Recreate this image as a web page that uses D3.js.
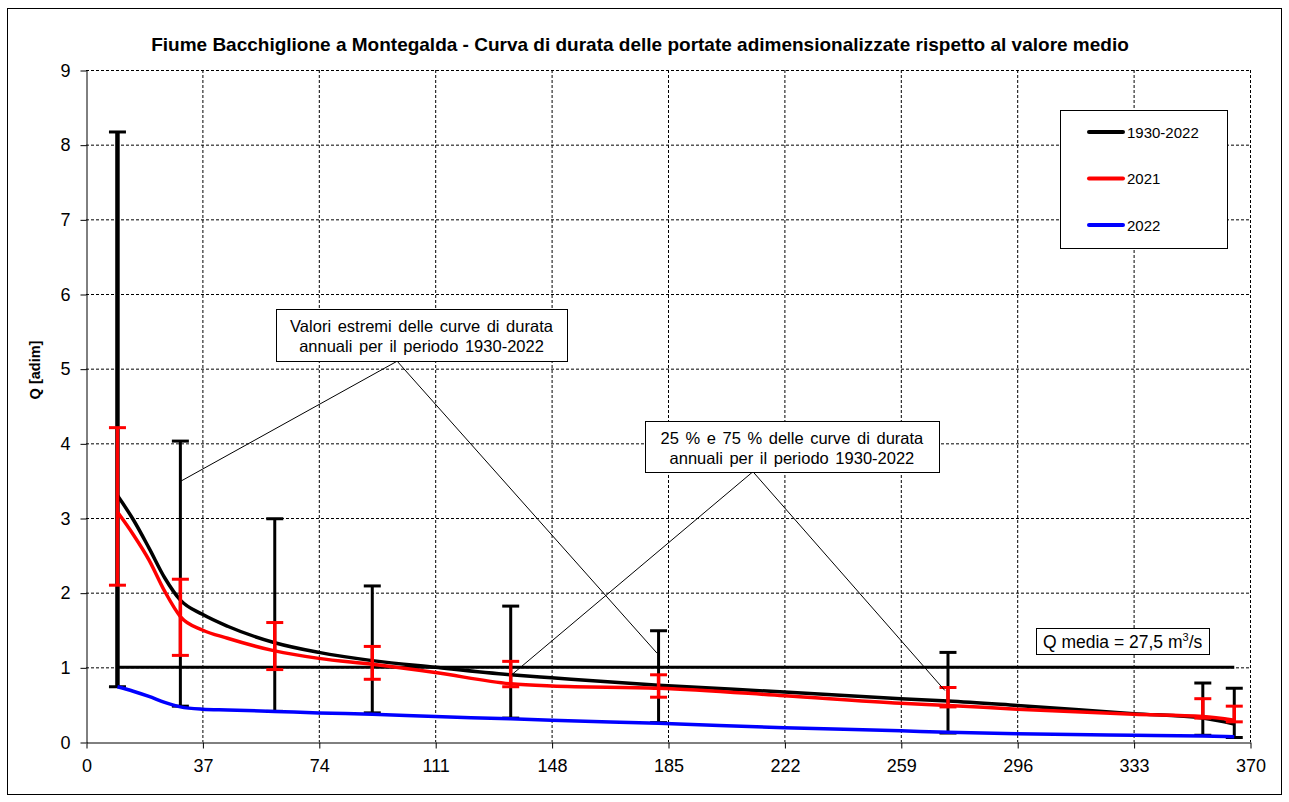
<!DOCTYPE html>
<html>
<head>
<meta charset="utf-8">
<script src="https://cdn.jsdelivr.net/npm/d3@7"></script>
<style>
  html, body { margin: 0; padding: 0; background: #fff; }
  text { font-family: "Liberation Sans", Arial, sans-serif; }
</style>
</head>
<body>
<svg id="chart" width="1289" height="802"></svg>
<script>
// ---------- DATA ----------
const title = "Fiume Bacchiglione a Montegalda - Curva di durata delle portate adimensionalizzate rispetto al valore medio";
const yLabel = "Q [adim]";
const xTicks = [0, 37, 74, 111, 148, 185, 222, 259, 296, 333, 370];
const yTicks = [0, 1, 2, 3, 4, 5, 6, 7, 8, 9];

const curveDays = [10, 15, 20, 25, 30, 37, 45, 60, 74, 91, 111, 135, 148, 182, 222, 259, 274, 296, 333, 355, 365];
const q1930_2022 = [3.30, 2.98, 2.60, 2.20, 1.90, 1.71, 1.55, 1.33, 1.20, 1.09, 1.00, 0.90, 0.86, 0.76, 0.67, 0.58, 0.55, 0.49, 0.38, 0.32, 0.24];
const q2021 = [3.08, 2.78, 2.44, 2.02, 1.68, 1.50, 1.39, 1.22, 1.12, 1.04, 0.93, 0.78, 0.75, 0.72, 0.62, 0.52, 0.49, 0.44, 0.37, 0.34, 0.29];
const q2022 = [0.74, 0.68, 0.61, 0.53, 0.47, 0.44, 0.43, 0.41, 0.39, 0.37, 0.34, 0.31, 0.29, 0.25, 0.19, 0.15, 0.13, 0.11, 0.09, 0.08, 0.07];

const barDays = [10, 30, 60, 91, 135, 182, 274, 355, 365];
const extMax = [8.17, 4.03, 2.99, 2.09, 1.82, 1.49, 1.20, 0.79, 0.72];
const extMin = [0.74, 0.48, 0.41, 0.39, 0.32, 0.26, 0.12, 0.09, 0.06];
const p75 = [4.21, 2.18, 1.60, 1.28, 1.08, 0.90, 0.73, 0.58, 0.48];
const p25 = [2.10, 1.16, 0.97, 0.84, 0.74, 0.60, 0.47, 0.32, 0.27];

const qMediaDays = [10, 365];
const qMediaVals = [1, 1];

const legendLabels = ["1930-2022", "2021", "2022"];
const legendColors = ["#000000", "#ff0000", "#0000ff"];

// ---------- LAYOUT ----------
const W = 1289, H = 802;
const m = { left: 86, top: 70, right: 1250, bottom: 742 };
const svg = d3.select("#chart");

const x = d3.scaleLinear().domain([0, 370]).range([m.left, m.right]);
const y = d3.scaleLinear().domain([0, 9]).range([m.bottom, m.top]);

svg.append("rect").attr("width", W).attr("height", H).attr("fill", "#fff");
svg.append("rect").attr("x", 7.5).attr("y", 8.5).attr("width", 1274).attr("height", 786)
  .attr("fill", "none").attr("stroke", "#000").attr("stroke-width", 1);

// Title
svg.append("text").attr("x", 640).attr("y", 51).attr("text-anchor", "middle")
  .attr("font-size", 19).attr("font-weight", "bold").text(title);

// Grid
const grid = svg.append("g");
grid.selectAll("line.v").data(xTicks.filter(d => d > 0)).join("line")
  .attr("x1", d => x(d) + 0.5).attr("x2", d => x(d) + 0.5)
  .attr("y1", m.top).attr("y2", m.bottom)
  .attr("stroke", "#000").attr("stroke-width", 1).attr("stroke-dasharray", "3,2");
grid.selectAll("line.h").data(yTicks.filter(d => d > 0)).join("line")
  .attr("x1", m.left).attr("x2", m.right)
  .attr("y1", d => y(d) + 0.5).attr("y2", d => y(d) + 0.5)
  .attr("stroke", "#000").attr("stroke-width", 1).attr("stroke-dasharray", "3,2");

// Axes
const xAxis = svg.append("g").attr("transform", `translate(0.5,${m.bottom + 0.5})`)
  .call(d3.axisBottom(x).tickValues(xTicks).tickSize(6).tickSizeOuter(0));
const yAxis = svg.append("g").attr("transform", `translate(${m.left + 0.5},0.5)`)
  .call(d3.axisLeft(y).tickValues(yTicks).tickSize(6).tickSizeOuter(0));
[xAxis, yAxis].forEach(a => {
  a.select(".domain").attr("stroke", "#000");
  a.selectAll(".tick line").attr("stroke", "#000");
  a.selectAll(".tick text").attr("font-size", 18).attr("fill", "#000")
    .attr("font-family", "Liberation Sans, Arial, sans-serif");
});
xAxis.selectAll(".tick text").attr("y", 29.5).attr("dy", 0);
yAxis.selectAll(".tick text").attr("x", -16);

// Y label
svg.append("text").attr("transform", "translate(40,370) rotate(-90)")
  .attr("text-anchor", "middle").attr("font-size", 14.5).attr("font-weight", "bold")
  .text(yLabel);

const plot = svg.append("g");

// Extreme error bars (black)
const bars = barDays.map((d, i) => ({ d, max: extMax[i], min: extMin[i], hi: p75[i], lo: p25[i] }));
const capW = 8.5;
plot.selectAll("line.ext").data(bars).join("line")
  .attr("x1", b => x(b.d)).attr("x2", b => x(b.d))
  .attr("y1", b => y(b.max)).attr("y2", b => y(b.min))
  .attr("stroke", "#000").attr("stroke-width", (b, i) => i === 0 ? 4.5 : 3);
plot.selectAll("line.extcapT").data(bars).join("line")
  .attr("x1", b => x(b.d) - capW).attr("x2", b => x(b.d) + capW)
  .attr("y1", b => y(b.max)).attr("y2", b => y(b.max))
  .attr("stroke", "#000").attr("stroke-width", 3);
plot.selectAll("line.extcapB").data(bars).join("line")
  .attr("x1", b => x(b.d) - capW).attr("x2", b => x(b.d) + capW)
  .attr("y1", b => y(b.min)).attr("y2", b => y(b.min))
  .attr("stroke", "#000").attr("stroke-width", 3);

// Curves
const line = d3.line().x(p => x(p[0])).y(p => y(p[1])).curve(d3.curveMonotoneX);
const series = [
  { vals: q1930_2022, color: "#000" },
  { vals: q2021, color: "#ff0000" },
];
// Q media
plot.append("path").datum(qMediaDays.map((d, i) => [d, qMediaVals[i]]))
  .attr("d", d3.line().x(p => x(p[0])).y(p => y(p[1])))
  .attr("fill", "none").attr("stroke", "#000").attr("stroke-width", 3);

series.forEach(s => {
  plot.append("path").datum(curveDays.map((d, i) => [d, s.vals[i]]))
    .attr("d", line).attr("fill", "none").attr("stroke", s.color)
    .attr("stroke-width", 3.5).attr("stroke-linejoin", "round");
});

// 25-75% error bars (red)
plot.selectAll("line.pct").data(bars).join("line")
  .attr("x1", b => x(b.d)).attr("x2", b => x(b.d))
  .attr("y1", b => y(b.hi)).attr("y2", b => y(b.lo))
  .attr("stroke", "#ff0000").attr("stroke-width", 3.5);
plot.selectAll("line.pctT").data(bars).join("line")
  .attr("x1", b => x(b.d) - capW).attr("x2", b => x(b.d) + capW)
  .attr("y1", b => y(b.hi)).attr("y2", b => y(b.hi))
  .attr("stroke", "#ff0000").attr("stroke-width", 3);
plot.selectAll("line.pctB").data(bars).join("line")
  .attr("x1", b => x(b.d) - capW).attr("x2", b => x(b.d) + capW)
  .attr("y1", b => y(b.lo)).attr("y2", b => y(b.lo))
  .attr("stroke", "#ff0000").attr("stroke-width", 3);

// Blue curve
plot.append("path").datum(curveDays.map((d, i) => [d, q2022[i]]))
  .attr("d", line).attr("fill", "none").attr("stroke", "#0000ff")
  .attr("stroke-width", 3.5).attr("stroke-linejoin", "round");

// Annotations
const notes = [
  { box: [60.4, 152.9, 5.80, 5.10], apex: [98.9, 5.10], ends: [[30, 3.49], [181.5, 1.19]],
    lines: ["Valori estremi delle curve di durata", "annuali per il periodo 1930-2022"] },
  { box: [177.7, 271.1, 4.30, 3.62], apex: [212, 3.62], ends: [[135.3, 0.90], [273, 0.69]],
    lines: ["25 % e 75 % delle curve di durata", "annuali per il periodo 1930-2022"] },
];
const ann = svg.append("g");
notes.forEach(n => {
  n.ends.forEach(e => {
    ann.append("line").attr("x1", x(n.apex[0])).attr("y1", y(n.apex[1]))
      .attr("x2", x(e[0])).attr("y2", y(e[1])).attr("stroke", "#000").attr("stroke-width", 1);
  });
  const bx = x(n.box[0]), bx2 = x(n.box[1]), by = y(n.box[2]), by2 = y(n.box[3]);
  ann.append("rect").attr("x", Math.round(bx) + 0.5).attr("y", Math.round(by) + 0.5)
    .attr("width", Math.round(bx2 - bx)).attr("height", Math.round(by2 - by))
    .attr("fill", "#fff").attr("stroke", "#000").attr("stroke-width", 1);
  n.lines.forEach((t, i) => {
    ann.append("text").attr("x", (bx + bx2) / 2).attr("y", by + 23 + i * 20)
      .attr("text-anchor", "middle").attr("font-size", 16.5).attr("word-spacing", 2).text(t);
  });
});

// Q media box
{
  const bx = x(302), bx2 = x(357), by = y(1.53), by2 = y(1.18);
  ann.append("rect").attr("x", Math.round(bx) + 0.5).attr("y", Math.round(by) + 0.5)
    .attr("width", Math.round(bx2 - bx)).attr("height", Math.round(by2 - by))
    .attr("fill", "#fff").attr("stroke", "#000").attr("stroke-width", 1);
  const t = ann.append("text").attr("x", (bx + bx2) / 2).attr("y", by + 20)
    .attr("text-anchor", "middle").attr("font-size", 17.5);
  t.append("tspan").text("Q media = 27,5 m");
  t.append("tspan").attr("font-size", 11).attr("dy", -7).text("3");
  t.append("tspan").attr("dy", 7).text("/s");
}

// Legend
const lg = svg.append("g");
lg.append("rect").attr("x", 1060.5).attr("y", 110.5).attr("width", 167).attr("height", 138)
  .attr("fill", "#fff").attr("stroke", "#000").attr("stroke-width", 1);
legendLabels.forEach((lab, i) => {
  const ly = 132 + i * 46.5;
  lg.append("line").attr("x1", 1089).attr("x2", 1123).attr("y1", ly).attr("y2", ly)
    .attr("stroke", legendColors[i]).attr("stroke-width", 4).attr("stroke-linecap", "round");
  lg.append("text").attr("x", 1127).attr("y", ly + 5.5).attr("font-size", 15).text(lab);
});
</script>
</body>
</html>
